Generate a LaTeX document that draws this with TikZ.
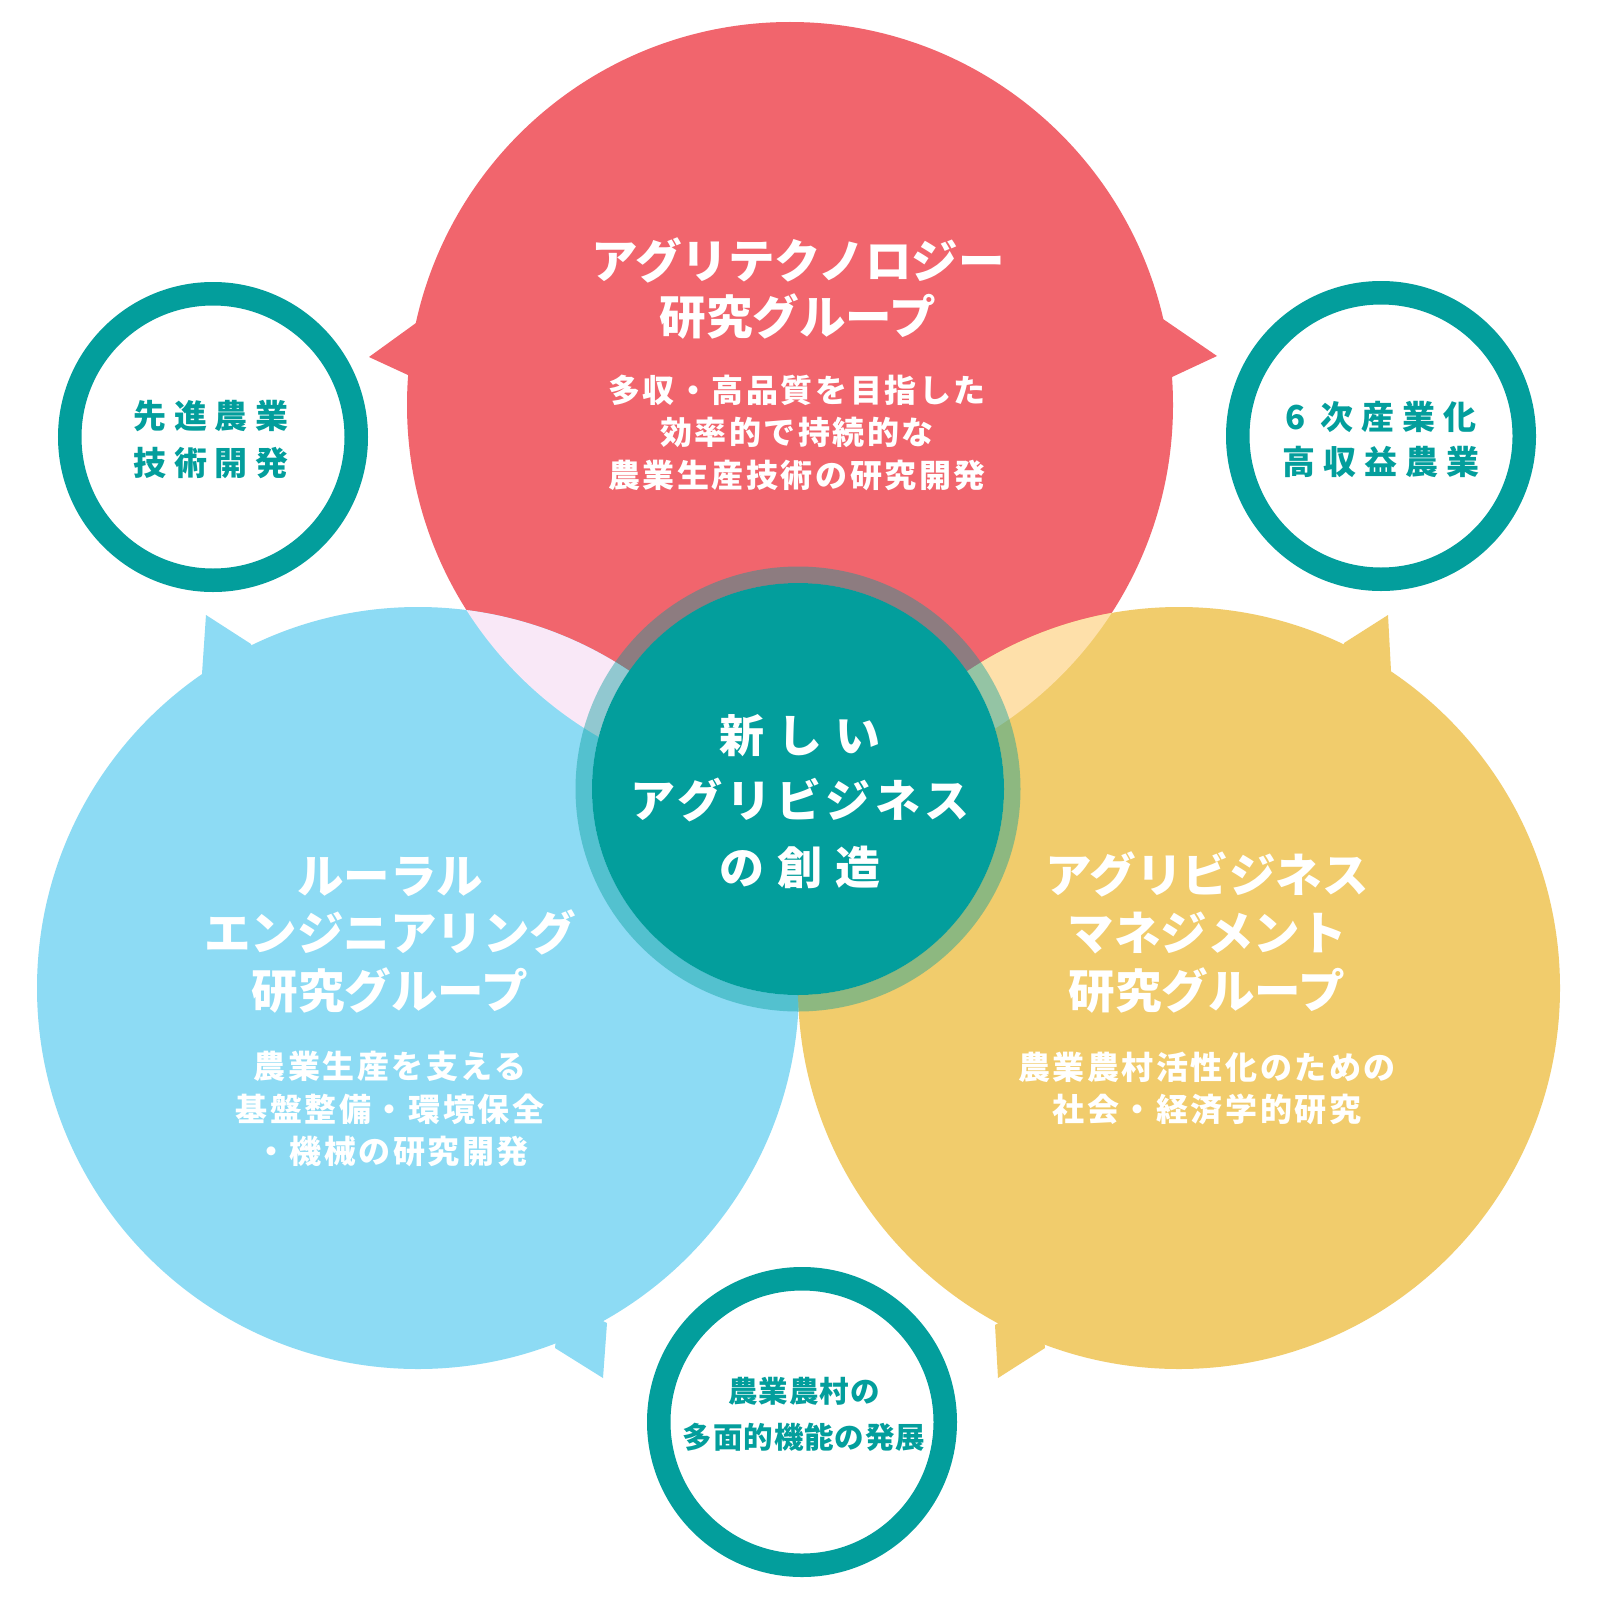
\documentclass[tikz,border=0pt]{standalone}
\usepackage{fontspec}
\setmainfont{Noto Sans CJK JP}
\newfontfamily\fttl{Noto Sans CJK JP}
\newfontfamily\fsubt{Noto Sans CJK JP}[LetterSpace=8]
\newfontfamily\fsml{Noto Sans CJK JP}[LetterSpace=24]
\newfontfamily\fbot{Noto Sans CJK JP}[LetterSpace=3]
\newfontfamily\fctr{Noto Sans CJK JP}[LetterSpace=10]
\newfontfamily\fctrw{Noto Sans CJK JP}[LetterSpace=29]
\definecolor{cred}{HTML}{F1656D}
\definecolor{cblue}{HTML}{8DDBF4}
\definecolor{cyel}{HTML}{F1CC6C}
\definecolor{cteal}{HTML}{039E9C}
\definecolor{cpink}{HTML}{F9E8F7}
\definecolor{corg}{HTML}{FEE0AA}
\begin{document}
\begin{tikzpicture}[x=1pt,y=-1pt,
  ln/.style={anchor=base, inner sep=0pt, text=white},
  ttl/.style={ln, font=\fttl\bfseries\fontsize{46.5}{50}\selectfont},
  subt/.style={ln, font=\fsubt\bfseries\fontsize{32}{36}\selectfont},
  ctr/.style={ln, font=\fctr\bfseries\fontsize{45}{50}\selectfont},
  ctrw/.style={ln, font=\fctrw\bfseries\fontsize{45}{50}\selectfont},
  sml/.style={ln, text=cteal, font=\fsml\bfseries\fontsize{33}{36}\selectfont},
  bot/.style={ln, text=cteal, font=\fbot\bfseries\fontsize{29.5}{32}\selectfont},
  ringc/.style={draw=cteal, line width=23.5pt, fill=white}]
\useasboundingbox (0,0) rectangle (1600,1600);
\fill[white] (0,0) rectangle (1600,1600);

% red bubble
\fill[cred] (790,405) circle[radius=383pt];
\fill[cred] (416,323) -- (369,357) -- (408,375) -- (450,360) -- cycle;
\fill[cred] (1163,319) -- (1217,356) -- (1172,377) -- (1130,360) -- cycle;
% blue bubble
\fill[cblue] (418,988) circle[radius=381pt];
\fill[cblue] (251,644) -- (206,615) -- (202,674) -- (260,700) -- cycle;
\fill[cblue] (555,1348) -- (603,1378) -- (607,1323) -- (560,1300) -- cycle;
% yellow bubble
\fill[cyel] (1179,988) circle[radius=381pt];
\fill[cyel] (1344,643) -- (1388,615) -- (1391,671) -- (1340,700) -- cycle;
\fill[cyel] (995,1325) -- (998,1378) -- (1045,1348) -- (1040,1300) -- cycle;
% overlaps
\begin{scope}
  \clip (790,405) circle[radius=383pt];
  \fill[cpink] (418,988) circle[radius=381pt];
  \fill[corg] (1179,988) circle[radius=381pt];
\end{scope}

% centre
\fill[cteal, opacity=.42, even odd rule] (798,789) circle[radius=222.5pt] (798,789) circle[radius=206pt];
\fill[cteal] (798,789) circle[radius=206pt];

% small circles
\draw[ringc] (213,437) circle[radius=143.25pt];
\draw[ringc] (1381,436) circle[radius=143.25pt];
\draw[ringc] (802,1422) circle[radius=143.25pt];

% red text
\node[ttl] (r1) at (798,278) {アグリテクノロジー};
\node[ttl] (r2) at (798,334) {研究グループ};
\node[subt] (r3) at (797,402) {多収・高品質を目指した};
\node[subt] (r4) at (797,444.5) {効率的で持続的な};
\node[subt] (r5) at (797,487) {農業生産技術の研究開発};

% blue text
\node[ttl] (b1) at (390,893) {ルーラル};
\node[ttl] (b2) at (390,950) {エンジニアリング};
\node[ttl] (b3) at (390,1008) {研究グループ};
\node[subt] (b4) at (390,1078) {農業生産を支える};
\node[subt] (b5) at (390,1121) {基盤整備・環境保全};
\node[subt] (b6) at (392,1163) {・機械の研究開発};

% yellow text
\node[ttl] (y1) at (1207,892) {アグリビジネス};
\node[ttl] (y2) at (1207,950) {マネジメント};
\node[ttl] (y3) at (1207,1008) {研究グループ};
\node[subt] (y4) at (1207,1079) {農業農村活性化のための};
\node[subt] (y5) at (1207,1121) {社会・経済学的研究};

% centre text
\node[ctrw] (c1) at (800,752) {新しい};
\node[ctr] (c2) at (800,817) {アグリビジネス};
\node[ctrw] (c3) at (800,884) {の創造};

% small circle texts
\node[sml] (s1) at (211,428) {先進農業};
\node[sml] (s2) at (211,475) {技術開発};
\node[sml] (s3) at (1381,429) {6 次産業化};
\node[sml] (s4) at (1381,474) {高収益農業};
\node[bot] (s5) at (804,1402) {農業農村の};
\node[bot] (s6) at (804,1448) {多面的機能の発展};
\end{tikzpicture}
\end{document}
